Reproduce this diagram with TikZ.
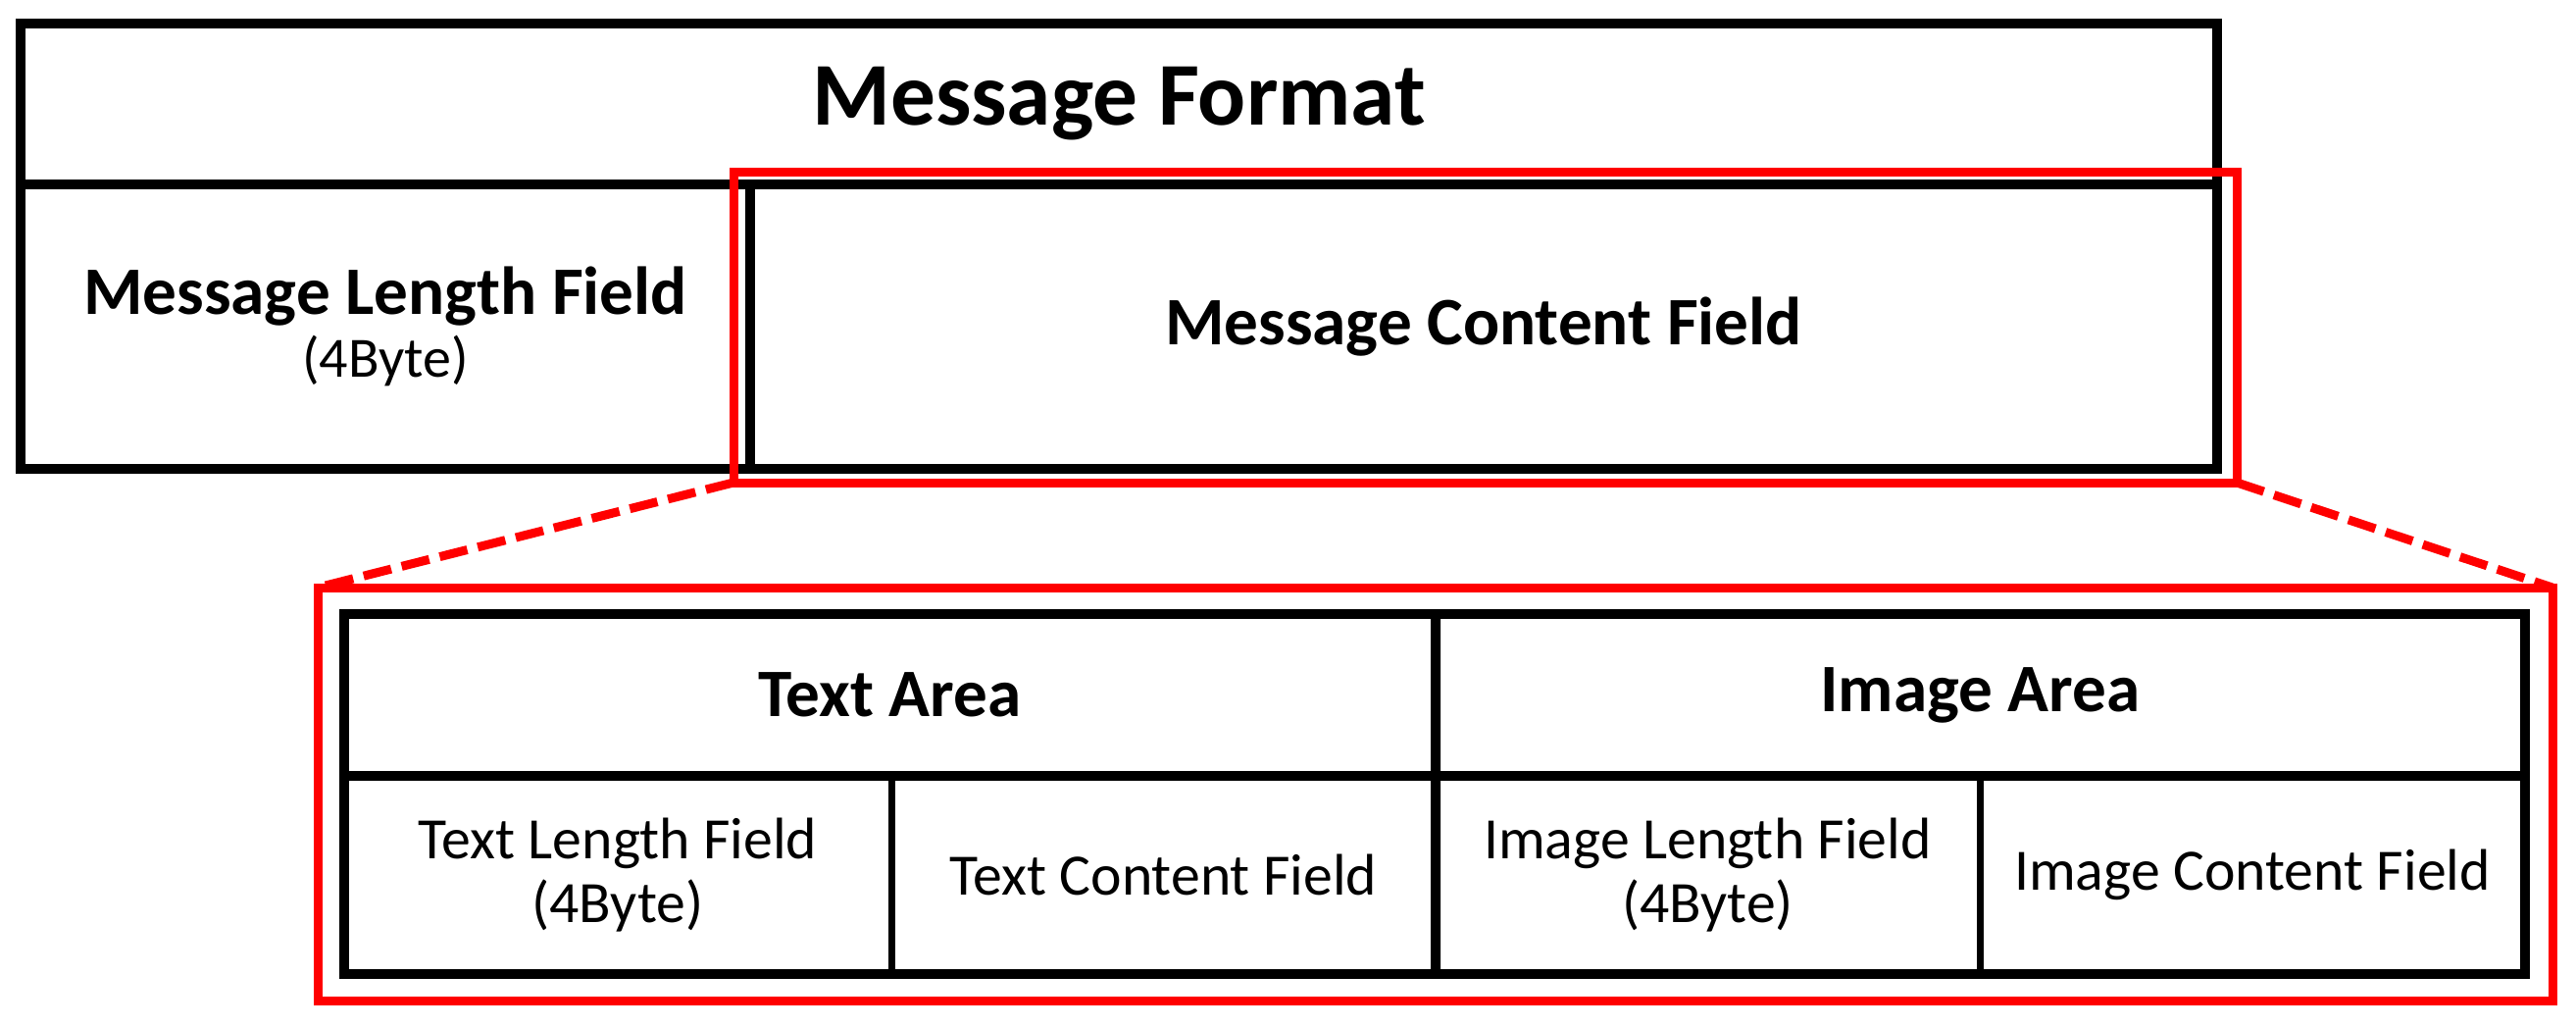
\documentclass[tikz,border=0pt]{standalone}
\usepackage{fontspec}
\setmainfont{Carlito}
\definecolor{boxred}{RGB}{255,0,0}

\begin{document}
\begin{tikzpicture}[x=0.1mm,y=-0.1mm,
   cell/.style={draw=black,line width=1mm,inner sep=0pt,outer sep=0pt,align=center},
   field/.style={cell,line width=0.7mm},
   redbox/.style={draw=boxred,line width=0.9mm,inner sep=0pt,outer sep=0pt},
   zoomline/.style={draw=boxred,line width=0.9mm,dash pattern=on 2.9mm off 1.1mm},
   big/.style={font=\bfseries\fontsize{26}{30}\selectfont},
   mid/.style={font=\bfseries\fontsize{19.7}{18}\selectfont},
   small/.style={font=\fontsize{17}{18.5}\selectfont}]
   \useasboundingbox (0,0) rectangle (2627,1047);

   % upper format
   \node[cell,big,minimum width=224mm,minimum height=16.4mm] (fmt) at (1141,106) {Message Format};
   \node[cell,mid,minimum width=74.4mm,minimum height=29mm] (mlen) at (393,333)
      {Message Length Field\\{\normalfont\fontsize{16.5}{18}\selectfont (4Byte)}};
   \node[cell,mid,minimum width=149.6mm,minimum height=29mm] (mcont) at (1513,333) {Message Content Field};

   % content field, zoomed
   \node[cell,mid,minimum width=111.3mm,minimum height=16.5mm] (tarea) at (907.5,708.5) {Text Area};
   \node[cell,mid,minimum width=111.1mm,minimum height=16.5mm] (iarea) at (2019.5,708.5) {Image Area};
   \node[field,small,minimum width=55.8mm,minimum height=20.2mm] (tlen) at (630,892) {Text Length Field\\(4Byte)};
   \node[field,small,minimum width=55.5mm,minimum height=20.2mm] (tcont) at (1186.5,892) {Text Content Field};
   \node[field,small,minimum width=55.5mm,minimum height=20.2mm] (ilen) at (1741.5,892) {Image Length Field\\(4Byte)};
   \node[field,small,minimum width=55.6mm,minimum height=20.2mm] (icont) at (2297,892) {Image Content Field};
   \draw[line width=1mm] (tarea.north west) rectangle (icont.south east);
   \draw[line width=1mm] (tarea.north east) -- (tcont.south east);

   % red marks
   \node[redbox,minimum width=153.3mm,minimum height=31.7mm] (zoomtop) at (1514.5,333.5) {};
   \node[redbox,minimum width=227.9mm,minimum height=42.1mm] (zoombot) at (1463.5,809.5) {};
   \draw[zoomline] (zoomtop.south west) -- (zoombot.north west);
   \draw[zoomline] (zoomtop.south east) -- (zoombot.north east);
\end{tikzpicture}
\end{document}
